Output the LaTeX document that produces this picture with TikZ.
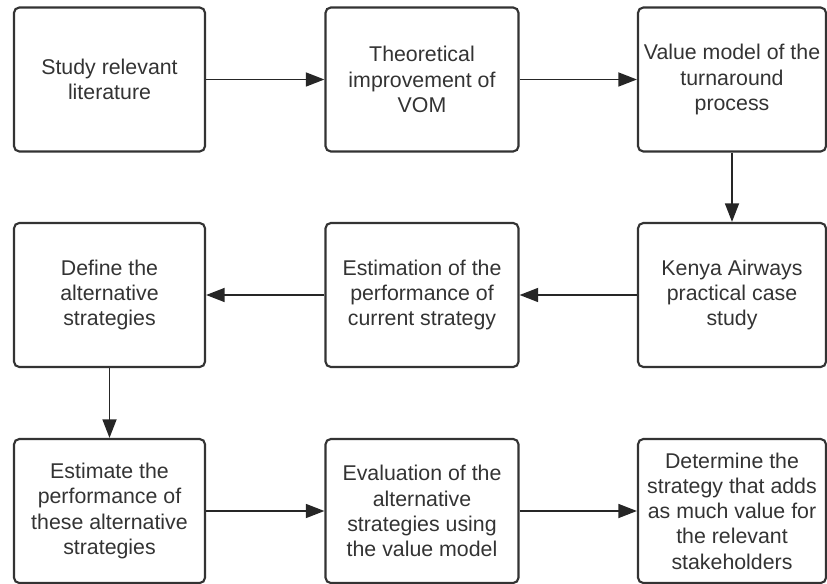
\documentclass[tikz,border=0pt]{standalone}
\usepackage{fontspec}
\setmainfont{Liberation Sans}
\usetikzlibrary{arrows.meta}
\definecolor{ink}{HTML}{333333}
\begin{document}
\begin{tikzpicture}[x=0.75pt,y=-0.75pt,
  stepbox/.style={draw=ink, line width=1.6pt, rounded corners=4pt,
    minimum height=144*0.75pt, align=center, text=ink,
    font=\fontsize{16pt}{18.9pt}\selectfont, inner sep=0pt},
  flow/.style={draw=black!85, line width=1.35pt,
    -{Triangle[length=14pt,width=10.5pt]}}]
\useasboundingbox (0,0) rectangle (827,584);
% top row
\node[stepbox, minimum width=191*0.75pt] (a) at (109.5,79.5) {Study relevant\\literature};
\node[stepbox, minimum width=193*0.75pt] (b) at (422,79.5) {Theoretical\\improvement of\\VOM};
\node[stepbox, minimum width=188*0.75pt] (c) at (732,79.5) {Value model of the\\turnaround\\process};
% middle row
\node[stepbox, minimum width=191*0.75pt] (f) at (109.5,295) {Define the\\alternative\\strategies};
\node[stepbox, minimum width=193*0.75pt] (e) at (422,295) {Estimation of the\\performance of\\current strategy};
\node[stepbox, minimum width=188*0.75pt] (d) at (732,295) {Kenya Airways\\practical case\\study};
% bottom row
\node[stepbox, minimum width=191*0.75pt] (g) at (109.5,511) {Estimate the\\performance of\\these alternative\\strategies};
\node[stepbox, minimum width=193*0.75pt] (h) at (422,511) {Evaluation of the\\alternative\\strategies using\\the value model};
\node[stepbox, minimum width=188*0.75pt] (i) at (732,511) {Determine the\\strategy that adds\\as much value for\\the relevant\\stakeholders};
% connectors
\draw[flow] (a) -- (b);
\draw[flow] (b) -- (c);
\draw[flow] (c) -- (d);
\draw[flow] (d) -- (e);
\draw[flow] (e) -- (f);
\draw[flow] (f) -- (g);
\draw[flow] (g) -- (h);
\draw[flow] (h) -- (i);
\end{tikzpicture}
\end{document}
